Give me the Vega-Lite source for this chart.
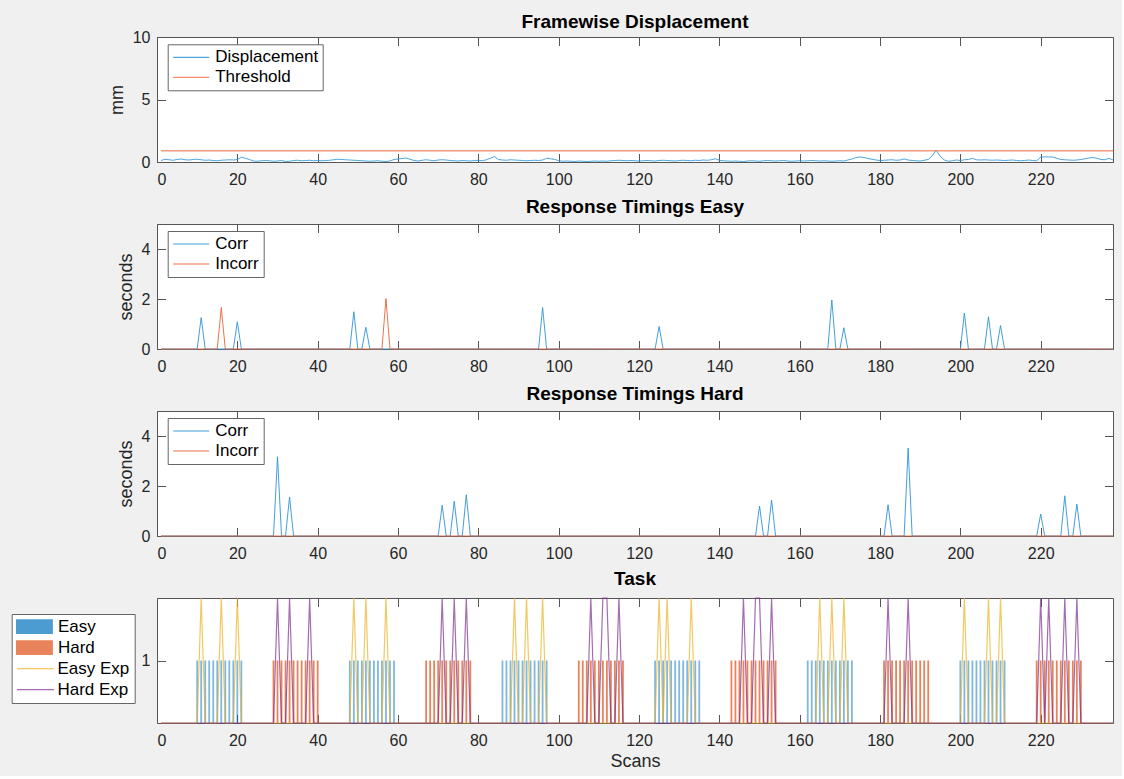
{
"$schema": "https://vega.github.io/schema/vega-lite/v6.json",
"background": "#f0f0f0",
"padding": {"left": 10, "top": 12, "right": 5, "bottom": 5},
"config": {
  "font": "Liberation Sans",
  "view": {"fill": "white", "stroke": "#555", "strokeWidth": 1},
  "axis": {"grid": false, "domain": false, "tickColor": "#555", "tickSize": -8.5, "tickWidth": 1, "labelFont": "Liberation Sans", "labelFontSize": 16, "labelColor": "#262626", "titleFont": "Liberation Sans", "titleFontSize": 18, "titleFontWeight": "normal", "titleColor": "#262626"},
  "axisX": {"labelPadding": 18, "titlePadding": 4},
  "axisY": {"labelPadding": 15.5, "titlePadding": 6},
  "title": {"font": "Liberation Sans", "fontSize": 19, "fontWeight": "bold", "color": "#000", "offset": 7, "baseline": "alphabetic", "frame": "group", "anchor": "middle"},
  "legend": {"orient": "none", "fillColor": "white", "strokeColor": "#666", "padding": 4.5, "labelFont": "Liberation Sans", "labelFontSize": 17, "labelColor": "#000", "symbolType": "stroke", "symbolSize": 1296, "symbolStrokeWidth": 1.2, "clipHeight": 17, "rowPadding": 2, "labelOffset": 5, "symbolOffset": 0}
},
"datasets": {"scans": [
{"s":1,"fd":0.12,"ec":0,"ei":0,"hc":0,"hi":0,"ee":0,"he":0,"b":"-"},
{"s":2,"fd":0.22,"ec":0,"ei":0,"hc":0,"hi":0,"ee":0,"he":0,"b":"-"},
{"s":3,"fd":0.18,"ec":0,"ei":0,"hc":0,"hi":0,"ee":0,"he":0,"b":"-"},
{"s":4,"fd":0.14,"ec":0,"ei":0,"hc":0,"hi":0,"ee":0,"he":0,"b":"-"},
{"s":5,"fd":0.2,"ec":0,"ei":0,"hc":0,"hi":0,"ee":0,"he":0,"b":"-"},
{"s":6,"fd":0.24,"ec":0,"ei":0,"hc":0,"hi":0,"ee":0,"he":0,"b":"-"},
{"s":7,"fd":0.18,"ec":0,"ei":0,"hc":0,"hi":0,"ee":0,"he":0,"b":"-"},
{"s":8,"fd":0.16,"ec":0,"ei":0,"hc":0,"hi":0,"ee":0,"he":0,"b":"-"},
{"s":9,"fd":0.2,"ec":0,"ei":0,"hc":0,"hi":0,"ee":0,"he":0,"b":"-"},
{"s":10,"fd":0.22,"ec":0,"ei":0,"hc":0,"hi":0,"ee":0,"he":0,"b":"E"},
{"s":11,"fd":0.18,"ec":1.26,"ei":0,"hc":0,"hi":0,"ee":2,"he":0,"b":"E"},
{"s":12,"fd":0.14,"ec":0,"ei":0,"hc":0,"hi":0,"ee":0,"he":0,"b":"E"},
{"s":13,"fd":0.16,"ec":0,"ei":0,"hc":0,"hi":0,"ee":0,"he":0,"b":"E"},
{"s":14,"fd":0.12,"ec":0,"ei":0,"hc":0,"hi":0,"ee":0,"he":0,"b":"E"},
{"s":15,"fd":0.1,"ec":0,"ei":0,"hc":0,"hi":0,"ee":0,"he":0,"b":"E"},
{"s":16,"fd":0.14,"ec":0,"ei":1.66,"hc":0,"hi":0,"ee":2,"he":0,"b":"E"},
{"s":17,"fd":0.16,"ec":0,"ei":0,"hc":0,"hi":0,"ee":0,"he":0,"b":"E"},
{"s":18,"fd":0.18,"ec":0,"ei":0,"hc":0,"hi":0,"ee":0,"he":0,"b":"E"},
{"s":19,"fd":0.16,"ec":0,"ei":0,"hc":0,"hi":0,"ee":0,"he":0,"b":"E"},
{"s":20,"fd":0.2,"ec":1.09,"ei":0,"hc":0,"hi":0,"ee":2,"he":0,"b":"E"},
{"s":21,"fd":0.38,"ec":0,"ei":0,"hc":0,"hi":0,"ee":0,"he":0,"b":"E"},
{"s":22,"fd":0.3,"ec":0,"ei":0,"hc":0,"hi":0,"ee":0,"he":0,"b":"-"},
{"s":23,"fd":0.2,"ec":0,"ei":0,"hc":0,"hi":0,"ee":0,"he":0,"b":"-"},
{"s":24,"fd":0.08,"ec":0,"ei":0,"hc":0,"hi":0,"ee":0,"he":0,"b":"-"},
{"s":25,"fd":0.06,"ec":0,"ei":0,"hc":0,"hi":0,"ee":0,"he":0,"b":"-"},
{"s":26,"fd":0.1,"ec":0,"ei":0,"hc":0,"hi":0,"ee":0,"he":0,"b":"-"},
{"s":27,"fd":0.12,"ec":0,"ei":0,"hc":0,"hi":0,"ee":0,"he":0,"b":"-"},
{"s":28,"fd":0.1,"ec":0,"ei":0,"hc":0,"hi":0,"ee":0,"he":0,"b":"-"},
{"s":29,"fd":0.06,"ec":0,"ei":0,"hc":0,"hi":0,"ee":0,"he":0,"b":"H"},
{"s":30,"fd":0.08,"ec":0,"ei":0,"hc":3.17,"hi":0,"ee":0,"he":2,"b":"H"},
{"s":31,"fd":0.12,"ec":0,"ei":0,"hc":0,"hi":0,"ee":0,"he":0,"b":"H"},
{"s":32,"fd":0.04,"ec":0,"ei":0,"hc":0,"hi":0,"ee":0,"he":0,"b":"H"},
{"s":33,"fd":0.06,"ec":0,"ei":0,"hc":1.56,"hi":0,"ee":0,"he":2,"b":"H"},
{"s":34,"fd":0.12,"ec":0,"ei":0,"hc":0,"hi":0,"ee":0,"he":0,"b":"H"},
{"s":35,"fd":0.14,"ec":0,"ei":0,"hc":0,"hi":0,"ee":0,"he":0,"b":"H"},
{"s":36,"fd":0.1,"ec":0,"ei":0,"hc":0,"hi":0,"ee":0,"he":0,"b":"H"},
{"s":37,"fd":0.12,"ec":0,"ei":0,"hc":0,"hi":0,"ee":0,"he":0,"b":"H"},
{"s":38,"fd":0.14,"ec":0,"ei":0,"hc":0,"hi":0,"ee":0,"he":2,"b":"H"},
{"s":39,"fd":0.1,"ec":0,"ei":0,"hc":0,"hi":0,"ee":0,"he":0,"b":"H"},
{"s":40,"fd":0.12,"ec":0,"ei":0,"hc":0,"hi":0,"ee":0,"he":0,"b":"H"},
{"s":41,"fd":0.1,"ec":0,"ei":0,"hc":0,"hi":0,"ee":0,"he":0,"b":"-"},
{"s":42,"fd":0.12,"ec":0,"ei":0,"hc":0,"hi":0,"ee":0,"he":0,"b":"-"},
{"s":43,"fd":0.14,"ec":0,"ei":0,"hc":0,"hi":0,"ee":0,"he":0,"b":"-"},
{"s":44,"fd":0.18,"ec":0,"ei":0,"hc":0,"hi":0,"ee":0,"he":0,"b":"-"},
{"s":45,"fd":0.22,"ec":0,"ei":0,"hc":0,"hi":0,"ee":0,"he":0,"b":"-"},
{"s":46,"fd":0.2,"ec":0,"ei":0,"hc":0,"hi":0,"ee":0,"he":0,"b":"-"},
{"s":47,"fd":0.18,"ec":0,"ei":0,"hc":0,"hi":0,"ee":0,"he":0,"b":"-"},
{"s":48,"fd":0.16,"ec":0,"ei":0,"hc":0,"hi":0,"ee":0,"he":0,"b":"E"},
{"s":49,"fd":0.14,"ec":1.49,"ei":0,"hc":0,"hi":0,"ee":2,"he":0,"b":"E"},
{"s":50,"fd":0.12,"ec":0,"ei":0,"hc":0,"hi":0,"ee":0,"he":0,"b":"E"},
{"s":51,"fd":0.1,"ec":0,"ei":0,"hc":0,"hi":0,"ee":0,"he":0,"b":"E"},
{"s":52,"fd":0.08,"ec":0.87,"ei":0,"hc":0,"hi":0,"ee":2,"he":0,"b":"E"},
{"s":53,"fd":0.06,"ec":0,"ei":0,"hc":0,"hi":0,"ee":0,"he":0,"b":"E"},
{"s":54,"fd":0.08,"ec":0,"ei":0,"hc":0,"hi":0,"ee":0,"he":0,"b":"E"},
{"s":55,"fd":0.1,"ec":0,"ei":0,"hc":0,"hi":0,"ee":0,"he":0,"b":"E"},
{"s":56,"fd":0.06,"ec":0,"ei":0,"hc":0,"hi":0,"ee":0,"he":0,"b":"E"},
{"s":57,"fd":0.04,"ec":0,"ei":2.02,"hc":0,"hi":0,"ee":2,"he":0,"b":"E"},
{"s":58,"fd":0.08,"ec":0,"ei":0,"hc":0,"hi":0,"ee":0,"he":0,"b":"E"},
{"s":59,"fd":0.2,"ec":0,"ei":0,"hc":0,"hi":0,"ee":0,"he":0,"b":"E"},
{"s":60,"fd":0.24,"ec":0,"ei":0,"hc":0,"hi":0,"ee":0,"he":0,"b":"-"},
{"s":61,"fd":0.28,"ec":0,"ei":0,"hc":0,"hi":0,"ee":0,"he":0,"b":"-"},
{"s":62,"fd":0.32,"ec":0,"ei":0,"hc":0,"hi":0,"ee":0,"he":0,"b":"-"},
{"s":63,"fd":0.22,"ec":0,"ei":0,"hc":0,"hi":0,"ee":0,"he":0,"b":"-"},
{"s":64,"fd":0.12,"ec":0,"ei":0,"hc":0,"hi":0,"ee":0,"he":0,"b":"-"},
{"s":65,"fd":0.08,"ec":0,"ei":0,"hc":0,"hi":0,"ee":0,"he":0,"b":"-"},
{"s":66,"fd":0.14,"ec":0,"ei":0,"hc":0,"hi":0,"ee":0,"he":0,"b":"-"},
{"s":67,"fd":0.18,"ec":0,"ei":0,"hc":0,"hi":0,"ee":0,"he":0,"b":"H"},
{"s":68,"fd":0.14,"ec":0,"ei":0,"hc":0,"hi":0,"ee":0,"he":0,"b":"H"},
{"s":69,"fd":0.1,"ec":0,"ei":0,"hc":0,"hi":0,"ee":0,"he":0,"b":"H"},
{"s":70,"fd":0.16,"ec":0,"ei":0,"hc":0,"hi":0,"ee":0,"he":0,"b":"H"},
{"s":71,"fd":0.18,"ec":0,"ei":0,"hc":1.23,"hi":0,"ee":0,"he":2,"b":"H"},
{"s":72,"fd":0.16,"ec":0,"ei":0,"hc":0,"hi":0,"ee":0,"he":0,"b":"H"},
{"s":73,"fd":0.12,"ec":0,"ei":0,"hc":0,"hi":0,"ee":0,"he":0,"b":"H"},
{"s":74,"fd":0.1,"ec":0,"ei":0,"hc":1.39,"hi":0,"ee":0,"he":2,"b":"H"},
{"s":75,"fd":0.08,"ec":0,"ei":0,"hc":0,"hi":0,"ee":0,"he":0,"b":"H"},
{"s":76,"fd":0.12,"ec":0,"ei":0,"hc":0,"hi":0,"ee":0,"he":0,"b":"H"},
{"s":77,"fd":0.1,"ec":0,"ei":0,"hc":1.65,"hi":0,"ee":0,"he":2,"b":"H"},
{"s":78,"fd":0.08,"ec":0,"ei":0,"hc":0,"hi":0,"ee":0,"he":0,"b":"H"},
{"s":79,"fd":0.12,"ec":0,"ei":0,"hc":0,"hi":0,"ee":0,"he":0,"b":"-"},
{"s":80,"fd":0.14,"ec":0,"ei":0,"hc":0,"hi":0,"ee":0,"he":0,"b":"-"},
{"s":81,"fd":0.1,"ec":0,"ei":0,"hc":0,"hi":0,"ee":0,"he":0,"b":"-"},
{"s":82,"fd":0.18,"ec":0,"ei":0,"hc":0,"hi":0,"ee":0,"he":0,"b":"-"},
{"s":83,"fd":0.3,"ec":0,"ei":0,"hc":0,"hi":0,"ee":0,"he":0,"b":"-"},
{"s":84,"fd":0.44,"ec":0,"ei":0,"hc":0,"hi":0,"ee":0,"he":0,"b":"-"},
{"s":85,"fd":0.2,"ec":0,"ei":0,"hc":0,"hi":0,"ee":0,"he":0,"b":"-"},
{"s":86,"fd":0.16,"ec":0,"ei":0,"hc":0,"hi":0,"ee":0,"he":0,"b":"E"},
{"s":87,"fd":0.14,"ec":0,"ei":0,"hc":0,"hi":0,"ee":0,"he":0,"b":"E"},
{"s":88,"fd":0.18,"ec":0,"ei":0,"hc":0,"hi":0,"ee":0,"he":0,"b":"E"},
{"s":89,"fd":0.16,"ec":0,"ei":0,"hc":0,"hi":0,"ee":2,"he":0,"b":"E"},
{"s":90,"fd":0.14,"ec":0,"ei":0,"hc":0,"hi":0,"ee":0,"he":0,"b":"E"},
{"s":91,"fd":0.12,"ec":0,"ei":0,"hc":0,"hi":0,"ee":0,"he":0,"b":"E"},
{"s":92,"fd":0.1,"ec":0,"ei":0,"hc":0,"hi":0,"ee":2,"he":0,"b":"E"},
{"s":93,"fd":0.12,"ec":0,"ei":0,"hc":0,"hi":0,"ee":0,"he":0,"b":"E"},
{"s":94,"fd":0.14,"ec":0,"ei":0,"hc":0,"hi":0,"ee":0,"he":0,"b":"E"},
{"s":95,"fd":0.12,"ec":0,"ei":0,"hc":0,"hi":0,"ee":0,"he":0,"b":"E"},
{"s":96,"fd":0.16,"ec":1.66,"ei":0,"hc":0,"hi":0,"ee":2,"he":0,"b":"E"},
{"s":97,"fd":0.3,"ec":0,"ei":0,"hc":0,"hi":0,"ee":0,"he":0,"b":"E"},
{"s":98,"fd":0.26,"ec":0,"ei":0,"hc":0,"hi":0,"ee":0,"he":0,"b":"-"},
{"s":99,"fd":0.2,"ec":0,"ei":0,"hc":0,"hi":0,"ee":0,"he":0,"b":"-"},
{"s":100,"fd":0.12,"ec":0,"ei":0,"hc":0,"hi":0,"ee":0,"he":0,"b":"-"},
{"s":101,"fd":0.06,"ec":0,"ei":0,"hc":0,"hi":0,"ee":0,"he":0,"b":"-"},
{"s":102,"fd":0.08,"ec":0,"ei":0,"hc":0,"hi":0,"ee":0,"he":0,"b":"-"},
{"s":103,"fd":0.06,"ec":0,"ei":0,"hc":0,"hi":0,"ee":0,"he":0,"b":"-"},
{"s":104,"fd":0.04,"ec":0,"ei":0,"hc":0,"hi":0,"ee":0,"he":0,"b":"-"},
{"s":105,"fd":0.08,"ec":0,"ei":0,"hc":0,"hi":0,"ee":0,"he":0,"b":"H"},
{"s":106,"fd":0.06,"ec":0,"ei":0,"hc":0,"hi":0,"ee":0,"he":0,"b":"H"},
{"s":107,"fd":0.04,"ec":0,"ei":0,"hc":0,"hi":0,"ee":0,"he":0,"b":"H"},
{"s":108,"fd":0.06,"ec":0,"ei":0,"hc":0,"hi":0,"ee":0,"he":2,"b":"H"},
{"s":109,"fd":0.08,"ec":0,"ei":0,"hc":0,"hi":0,"ee":0,"he":0,"b":"H"},
{"s":110,"fd":0.06,"ec":0,"ei":0,"hc":0,"hi":0,"ee":0,"he":0,"b":"H"},
{"s":111,"fd":0.08,"ec":0,"ei":0,"hc":0,"hi":0,"ee":0,"he":2,"b":"H"},
{"s":112,"fd":0.06,"ec":0,"ei":0,"hc":0,"hi":0,"ee":0,"he":2,"b":"H"},
{"s":113,"fd":0.1,"ec":0,"ei":0,"hc":0,"hi":0,"ee":0,"he":0,"b":"H"},
{"s":114,"fd":0.12,"ec":0,"ei":0,"hc":0,"hi":0,"ee":0,"he":0,"b":"H"},
{"s":115,"fd":0.14,"ec":0,"ei":0,"hc":0,"hi":0,"ee":0,"he":2,"b":"H"},
{"s":116,"fd":0.12,"ec":0,"ei":0,"hc":0,"hi":0,"ee":0,"he":0,"b":"H"},
{"s":117,"fd":0.1,"ec":0,"ei":0,"hc":0,"hi":0,"ee":0,"he":0,"b":"-"},
{"s":118,"fd":0.12,"ec":0,"ei":0,"hc":0,"hi":0,"ee":0,"he":0,"b":"-"},
{"s":119,"fd":0.1,"ec":0,"ei":0,"hc":0,"hi":0,"ee":0,"he":0,"b":"-"},
{"s":120,"fd":0.08,"ec":0,"ei":0,"hc":0,"hi":0,"ee":0,"he":0,"b":"-"},
{"s":121,"fd":0.1,"ec":0,"ei":0,"hc":0,"hi":0,"ee":0,"he":0,"b":"-"},
{"s":122,"fd":0.12,"ec":0,"ei":0,"hc":0,"hi":0,"ee":0,"he":0,"b":"-"},
{"s":123,"fd":0.1,"ec":0,"ei":0,"hc":0,"hi":0,"ee":0,"he":0,"b":"-"},
{"s":124,"fd":0.08,"ec":0,"ei":0,"hc":0,"hi":0,"ee":0,"he":0,"b":"E"},
{"s":125,"fd":0.12,"ec":0.9,"ei":0,"hc":0,"hi":0,"ee":2,"he":0,"b":"E"},
{"s":126,"fd":0.14,"ec":0,"ei":0,"hc":0,"hi":0,"ee":0,"he":0,"b":"E"},
{"s":127,"fd":0.12,"ec":0,"ei":0,"hc":0,"hi":0,"ee":2,"he":0,"b":"E"},
{"s":128,"fd":0.1,"ec":0,"ei":0,"hc":0,"hi":0,"ee":0,"he":0,"b":"E"},
{"s":129,"fd":0.08,"ec":0,"ei":0,"hc":0,"hi":0,"ee":0,"he":0,"b":"E"},
{"s":130,"fd":0.12,"ec":0,"ei":0,"hc":0,"hi":0,"ee":0,"he":0,"b":"E"},
{"s":131,"fd":0.14,"ec":0,"ei":0,"hc":0,"hi":0,"ee":0,"he":0,"b":"E"},
{"s":132,"fd":0.12,"ec":0,"ei":0,"hc":0,"hi":0,"ee":0,"he":0,"b":"E"},
{"s":133,"fd":0.1,"ec":0,"ei":0,"hc":0,"hi":0,"ee":2,"he":0,"b":"E"},
{"s":134,"fd":0.14,"ec":0,"ei":0,"hc":0,"hi":0,"ee":0,"he":0,"b":"E"},
{"s":135,"fd":0.12,"ec":0,"ei":0,"hc":0,"hi":0,"ee":0,"he":0,"b":"E"},
{"s":136,"fd":0.16,"ec":0,"ei":0,"hc":0,"hi":0,"ee":0,"he":0,"b":"-"},
{"s":137,"fd":0.14,"ec":0,"ei":0,"hc":0,"hi":0,"ee":0,"he":0,"b":"-"},
{"s":138,"fd":0.18,"ec":0,"ei":0,"hc":0,"hi":0,"ee":0,"he":0,"b":"-"},
{"s":139,"fd":0.26,"ec":0,"ei":0,"hc":0,"hi":0,"ee":0,"he":0,"b":"-"},
{"s":140,"fd":0.14,"ec":0,"ei":0,"hc":0,"hi":0,"ee":0,"he":0,"b":"-"},
{"s":141,"fd":0.1,"ec":0,"ei":0,"hc":0,"hi":0,"ee":0,"he":0,"b":"-"},
{"s":142,"fd":0.08,"ec":0,"ei":0,"hc":0,"hi":0,"ee":0,"he":0,"b":"-"},
{"s":143,"fd":0.06,"ec":0,"ei":0,"hc":0,"hi":0,"ee":0,"he":0,"b":"H"},
{"s":144,"fd":0.08,"ec":0,"ei":0,"hc":0,"hi":0,"ee":0,"he":0,"b":"H"},
{"s":145,"fd":0.06,"ec":0,"ei":0,"hc":0,"hi":0,"ee":0,"he":0,"b":"H"},
{"s":146,"fd":0.04,"ec":0,"ei":0,"hc":0,"hi":0,"ee":0,"he":2,"b":"H"},
{"s":147,"fd":0.08,"ec":0,"ei":0,"hc":0,"hi":0,"ee":0,"he":0,"b":"H"},
{"s":148,"fd":0.1,"ec":0,"ei":0,"hc":0,"hi":0,"ee":0,"he":0,"b":"H"},
{"s":149,"fd":0.08,"ec":0,"ei":0,"hc":0,"hi":0,"ee":0,"he":2,"b":"H"},
{"s":150,"fd":0.06,"ec":0,"ei":0,"hc":1.2,"hi":0,"ee":0,"he":2,"b":"H"},
{"s":151,"fd":0.1,"ec":0,"ei":0,"hc":0,"hi":0,"ee":0,"he":0,"b":"H"},
{"s":152,"fd":0.12,"ec":0,"ei":0,"hc":0,"hi":0,"ee":0,"he":0,"b":"H"},
{"s":153,"fd":0.1,"ec":0,"ei":0,"hc":1.44,"hi":0,"ee":0,"he":2,"b":"H"},
{"s":154,"fd":0.08,"ec":0,"ei":0,"hc":0,"hi":0,"ee":0,"he":0,"b":"H"},
{"s":155,"fd":0.1,"ec":0,"ei":0,"hc":0,"hi":0,"ee":0,"he":0,"b":"-"},
{"s":156,"fd":0.12,"ec":0,"ei":0,"hc":0,"hi":0,"ee":0,"he":0,"b":"-"},
{"s":157,"fd":0.08,"ec":0,"ei":0,"hc":0,"hi":0,"ee":0,"he":0,"b":"-"},
{"s":158,"fd":0.06,"ec":0,"ei":0,"hc":0,"hi":0,"ee":0,"he":0,"b":"-"},
{"s":159,"fd":0.08,"ec":0,"ei":0,"hc":0,"hi":0,"ee":0,"he":0,"b":"-"},
{"s":160,"fd":0.1,"ec":0,"ei":0,"hc":0,"hi":0,"ee":0,"he":0,"b":"-"},
{"s":161,"fd":0.08,"ec":0,"ei":0,"hc":0,"hi":0,"ee":0,"he":0,"b":"-"},
{"s":162,"fd":0.1,"ec":0,"ei":0,"hc":0,"hi":0,"ee":0,"he":0,"b":"E"},
{"s":163,"fd":0.12,"ec":0,"ei":0,"hc":0,"hi":0,"ee":0,"he":0,"b":"E"},
{"s":164,"fd":0.1,"ec":0,"ei":0,"hc":0,"hi":0,"ee":0,"he":0,"b":"E"},
{"s":165,"fd":0.08,"ec":0,"ei":0,"hc":0,"hi":0,"ee":2,"he":0,"b":"E"},
{"s":166,"fd":0.1,"ec":0,"ei":0,"hc":0,"hi":0,"ee":0,"he":0,"b":"E"},
{"s":167,"fd":0.08,"ec":0,"ei":0,"hc":0,"hi":0,"ee":0,"he":0,"b":"E"},
{"s":168,"fd":0.06,"ec":1.96,"ei":0,"hc":0,"hi":0,"ee":2,"he":0,"b":"E"},
{"s":169,"fd":0.08,"ec":0,"ei":0,"hc":0,"hi":0,"ee":0,"he":0,"b":"E"},
{"s":170,"fd":0.1,"ec":0,"ei":0,"hc":0,"hi":0,"ee":0,"he":0,"b":"E"},
{"s":171,"fd":0.08,"ec":0.85,"ei":0,"hc":0,"hi":0,"ee":2,"he":0,"b":"E"},
{"s":172,"fd":0.16,"ec":0,"ei":0,"hc":0,"hi":0,"ee":0,"he":0,"b":"E"},
{"s":173,"fd":0.24,"ec":0,"ei":0,"hc":0,"hi":0,"ee":0,"he":0,"b":"E"},
{"s":174,"fd":0.36,"ec":0,"ei":0,"hc":0,"hi":0,"ee":0,"he":0,"b":"-"},
{"s":175,"fd":0.4,"ec":0,"ei":0,"hc":0,"hi":0,"ee":0,"he":0,"b":"-"},
{"s":176,"fd":0.36,"ec":0,"ei":0,"hc":0,"hi":0,"ee":0,"he":0,"b":"-"},
{"s":177,"fd":0.28,"ec":0,"ei":0,"hc":0,"hi":0,"ee":0,"he":0,"b":"-"},
{"s":178,"fd":0.22,"ec":0,"ei":0,"hc":0,"hi":0,"ee":0,"he":0,"b":"-"},
{"s":179,"fd":0.16,"ec":0,"ei":0,"hc":0,"hi":0,"ee":0,"he":0,"b":"-"},
{"s":180,"fd":0.12,"ec":0,"ei":0,"hc":0,"hi":0,"ee":0,"he":0,"b":"-"},
{"s":181,"fd":0.14,"ec":0,"ei":0,"hc":0,"hi":0,"ee":0,"he":0,"b":"H"},
{"s":182,"fd":0.16,"ec":0,"ei":0,"hc":1.25,"hi":0,"ee":0,"he":2,"b":"H"},
{"s":183,"fd":0.18,"ec":0,"ei":0,"hc":0,"hi":0,"ee":0,"he":0,"b":"H"},
{"s":184,"fd":0.14,"ec":0,"ei":0,"hc":0,"hi":0,"ee":0,"he":0,"b":"H"},
{"s":185,"fd":0.16,"ec":0,"ei":0,"hc":0,"hi":0,"ee":0,"he":0,"b":"H"},
{"s":186,"fd":0.24,"ec":0,"ei":0,"hc":0,"hi":0,"ee":0,"he":0,"b":"H"},
{"s":187,"fd":0.16,"ec":0,"ei":0,"hc":3.52,"hi":0,"ee":0,"he":2,"b":"H"},
{"s":188,"fd":0.12,"ec":0,"ei":0,"hc":0,"hi":0,"ee":0,"he":0,"b":"H"},
{"s":189,"fd":0.1,"ec":0,"ei":0,"hc":0,"hi":0,"ee":0,"he":0,"b":"H"},
{"s":190,"fd":0.08,"ec":0,"ei":0,"hc":0,"hi":0,"ee":0,"he":0,"b":"H"},
{"s":191,"fd":0.14,"ec":0,"ei":0,"hc":0,"hi":0,"ee":0,"he":0,"b":"H"},
{"s":192,"fd":0.2,"ec":0,"ei":0,"hc":0,"hi":0,"ee":0,"he":0,"b":"H"},
{"s":193,"fd":0.5,"ec":0,"ei":0,"hc":0,"hi":0,"ee":0,"he":0,"b":"-"},
{"s":194,"fd":0.96,"ec":0,"ei":0,"hc":0,"hi":0,"ee":0,"he":0,"b":"-"},
{"s":195,"fd":0.45,"ec":0,"ei":0,"hc":0,"hi":0,"ee":0,"he":0,"b":"-"},
{"s":196,"fd":0.16,"ec":0,"ei":0,"hc":0,"hi":0,"ee":0,"he":0,"b":"-"},
{"s":197,"fd":0.06,"ec":0,"ei":0,"hc":0,"hi":0,"ee":0,"he":0,"b":"-"},
{"s":198,"fd":0.1,"ec":0,"ei":0,"hc":0,"hi":0,"ee":0,"he":0,"b":"-"},
{"s":199,"fd":0.16,"ec":0,"ei":0,"hc":0,"hi":0,"ee":0,"he":0,"b":"-"},
{"s":200,"fd":0.12,"ec":0,"ei":0,"hc":0,"hi":0,"ee":0,"he":0,"b":"E"},
{"s":201,"fd":0.18,"ec":1.44,"ei":0,"hc":0,"hi":0,"ee":2,"he":0,"b":"E"},
{"s":202,"fd":0.2,"ec":0,"ei":0,"hc":0,"hi":0,"ee":0,"he":0,"b":"E"},
{"s":203,"fd":0.3,"ec":0,"ei":0,"hc":0,"hi":0,"ee":0,"he":0,"b":"E"},
{"s":204,"fd":0.18,"ec":0,"ei":0,"hc":0,"hi":0,"ee":0,"he":0,"b":"E"},
{"s":205,"fd":0.16,"ec":0,"ei":0,"hc":0,"hi":0,"ee":0,"he":0,"b":"E"},
{"s":206,"fd":0.18,"ec":0,"ei":0,"hc":0,"hi":0,"ee":0,"he":0,"b":"E"},
{"s":207,"fd":0.16,"ec":1.29,"ei":0,"hc":0,"hi":0,"ee":2,"he":0,"b":"E"},
{"s":208,"fd":0.14,"ec":0,"ei":0,"hc":0,"hi":0,"ee":0,"he":0,"b":"E"},
{"s":209,"fd":0.16,"ec":0,"ei":0,"hc":0,"hi":0,"ee":0,"he":0,"b":"E"},
{"s":210,"fd":0.14,"ec":0.94,"ei":0,"hc":0,"hi":0,"ee":2,"he":0,"b":"E"},
{"s":211,"fd":0.12,"ec":0,"ei":0,"hc":0,"hi":0,"ee":0,"he":0,"b":"E"},
{"s":212,"fd":0.14,"ec":0,"ei":0,"hc":0,"hi":0,"ee":0,"he":0,"b":"-"},
{"s":213,"fd":0.16,"ec":0,"ei":0,"hc":0,"hi":0,"ee":0,"he":0,"b":"-"},
{"s":214,"fd":0.12,"ec":0,"ei":0,"hc":0,"hi":0,"ee":0,"he":0,"b":"-"},
{"s":215,"fd":0.1,"ec":0,"ei":0,"hc":0,"hi":0,"ee":0,"he":0,"b":"-"},
{"s":216,"fd":0.12,"ec":0,"ei":0,"hc":0,"hi":0,"ee":0,"he":0,"b":"-"},
{"s":217,"fd":0.16,"ec":0,"ei":0,"hc":0,"hi":0,"ee":0,"he":0,"b":"-"},
{"s":218,"fd":0.12,"ec":0,"ei":0,"hc":0,"hi":0,"ee":0,"he":0,"b":"-"},
{"s":219,"fd":0.1,"ec":0,"ei":0,"hc":0,"hi":0,"ee":0,"he":0,"b":"H"},
{"s":220,"fd":0.38,"ec":0,"ei":0,"hc":0.88,"hi":0,"ee":0,"he":2,"b":"H"},
{"s":221,"fd":0.42,"ec":0,"ei":0,"hc":0,"hi":0,"ee":0,"he":0,"b":"H"},
{"s":222,"fd":0.4,"ec":0,"ei":0,"hc":0,"hi":0,"ee":0,"he":2,"b":"H"},
{"s":223,"fd":0.4,"ec":0,"ei":0,"hc":0,"hi":0,"ee":0,"he":0,"b":"H"},
{"s":224,"fd":0.3,"ec":0,"ei":0,"hc":0,"hi":0,"ee":0,"he":0,"b":"H"},
{"s":225,"fd":0.2,"ec":0,"ei":0,"hc":0,"hi":0,"ee":0,"he":0,"b":"H"},
{"s":226,"fd":0.18,"ec":0,"ei":0,"hc":1.61,"hi":0,"ee":0,"he":2,"b":"H"},
{"s":227,"fd":0.16,"ec":0,"ei":0,"hc":0,"hi":0,"ee":0,"he":0,"b":"H"},
{"s":228,"fd":0.14,"ec":0,"ei":0,"hc":0,"hi":0,"ee":0,"he":0,"b":"H"},
{"s":229,"fd":0.16,"ec":0,"ei":0,"hc":1.28,"hi":0,"ee":0,"he":2,"b":"H"},
{"s":230,"fd":0.2,"ec":0,"ei":0,"hc":0,"hi":0,"ee":0,"he":0,"b":"H"},
{"s":231,"fd":0.26,"ec":0,"ei":0,"hc":0,"hi":0,"ee":0,"he":0,"b":"-"},
{"s":232,"fd":0.32,"ec":0,"ei":0,"hc":0,"hi":0,"ee":0,"he":0,"b":"-"},
{"s":233,"fd":0.36,"ec":0,"ei":0,"hc":0,"hi":0,"ee":0,"he":0,"b":"-"},
{"s":234,"fd":0.3,"ec":0,"ei":0,"hc":0,"hi":0,"ee":0,"he":0,"b":"-"},
{"s":235,"fd":0.2,"ec":0,"ei":0,"hc":0,"hi":0,"ee":0,"he":0,"b":"-"},
{"s":236,"fd":0.18,"ec":0,"ei":0,"hc":0,"hi":0,"ee":0,"he":0,"b":"-"},
{"s":237,"fd":0.3,"ec":0,"ei":0,"hc":0,"hi":0,"ee":0,"he":0,"b":"-"},
{"s":238,"fd":0.16,"ec":0,"ei":0,"hc":0,"hi":0,"ee":0,"he":0,"b":"-"}
]},
"spacing": 62,
"bounds": "flush",
"resolve": {"scale": {"x": "independent", "y": "independent", "color": "independent", "stroke": "independent"}, "legend": {"color": "independent", "stroke": "independent"}},
"vconcat": [
{
  "width": 956, "height": 125,
  "title": {"text": "Framewise Displacement", "offset": -3},
  "data": {"name": "scans"},
  "resolve": {"axis": {"x": "independent", "y": "independent"}},
  "layer": [
    {"mark": {"type": "line", "strokeWidth": 1, "opacity": 0.85},
     "encoding": {
       "x": {"field": "s", "type": "quantitative", "scale": {"domain": [0, 238], "nice": false, "zero": false}, "axis": {"orient": "bottom", "title": null, "values": [0,20,40,60,80,100,120,140,160,180,200,220]}},
       "y": {"field": "fd", "type": "quantitative", "scale": {"domain": [0, 10], "nice": false}, "axis": {"orient": "left", "title": "mm", "values": [0,5,10]}},
       "color": {"datum": "Displacement", "type": "nominal", "scale": {"domain": ["Displacement", "Threshold"], "range": ["#2F95D8", "#EE7A50"]}, "legend": {"title": null, "legendX": 10.7, "legendY": 7.3}}
     }},
    {"mark": {"type": "line", "strokeWidth": 1.5, "opacity": 0.75},
     "encoding": {
       "x": {"field": "s", "type": "quantitative", "axis": {"orient": "top", "title": null, "labels": false, "values": [0,20,40,60,80,100,120,140,160,180,200,220]}},
       "y": {"datum": 0.9, "type": "quantitative", "axis": {"orient": "right", "title": null, "labels": false, "values": [0,5,10]}},
       "color": {"datum": "Threshold", "type": "nominal"}
     }}
  ]
},
{
  "width": 956, "height": 125,
  "title": {"text": "Response Timings Easy"},
  "data": {"name": "scans"},
  "resolve": {"axis": {"x": "independent", "y": "independent"}},
  "layer": [
    {"mark": {"type": "line", "strokeWidth": 1, "opacity": 0.9},
     "encoding": {
       "x": {"field": "s", "type": "quantitative", "scale": {"domain": [0, 238], "nice": false, "zero": false}, "axis": {"orient": "bottom", "title": null, "values": [0,20,40,60,80,100,120,140,160,180,200,220]}},
       "y": {"field": "ec", "type": "quantitative", "scale": {"domain": [0, 5], "nice": false}, "axis": {"orient": "left", "title": "seconds", "values": [0,2,4]}},
       "color": {"datum": "Corr", "type": "nominal", "scale": {"domain": ["Corr", "Incorr"], "range": ["#2F95D8", "#E8653A"]}, "legend": {"title": null, "legendX": 10.7, "legendY": 7}}
     }},
    {"mark": {"type": "line", "strokeWidth": 1, "opacity": 0.9},
     "encoding": {
       "x": {"field": "s", "type": "quantitative", "axis": {"orient": "top", "title": null, "labels": false, "values": [0,20,40,60,80,100,120,140,160,180,200,220]}},
       "y": {"field": "ei", "type": "quantitative", "axis": {"orient": "right", "title": null, "labels": false, "values": [0,2,4]}},
       "color": {"datum": "Incorr", "type": "nominal"}
     }}
  ]
},
{
  "width": 956, "height": 125,
  "title": {"text": "Response Timings Hard"},
  "data": {"name": "scans"},
  "resolve": {"axis": {"x": "independent", "y": "independent"}},
  "layer": [
    {"mark": {"type": "line", "strokeWidth": 1, "opacity": 0.9},
     "encoding": {
       "x": {"field": "s", "type": "quantitative", "scale": {"domain": [0, 238], "nice": false, "zero": false}, "axis": {"orient": "bottom", "title": null, "values": [0,20,40,60,80,100,120,140,160,180,200,220]}},
       "y": {"field": "hc", "type": "quantitative", "scale": {"domain": [0, 5], "nice": false}, "axis": {"orient": "left", "title": "seconds", "values": [0,2,4]}},
       "color": {"datum": "Corr", "type": "nominal", "scale": {"domain": ["Corr", "Incorr"], "range": ["#2F95D8", "#E8653A"]}, "legend": {"title": null, "legendX": 10.7, "legendY": 7}}
     }},
    {"mark": {"type": "line", "strokeWidth": 1, "opacity": 0.9},
     "encoding": {
       "x": {"field": "s", "type": "quantitative", "axis": {"orient": "top", "title": null, "labels": false, "values": [0,20,40,60,80,100,120,140,160,180,200,220]}},
       "y": {"field": "hi", "type": "quantitative", "axis": {"orient": "right", "title": null, "labels": false, "values": [0,2,4]}},
       "color": {"datum": "Incorr", "type": "nominal"}
     }}
  ]
},
{
  "width": 956, "height": 125,
  "title": {"text": "Task"},
  "data": {"name": "scans"},
  "resolve": {"axis": {"x": "independent", "y": "independent"}},
  "layer": [
    {"transform": [{"filter": "datum.b == 'E'"}],
     "mark": {"type": "bar", "width": 1.8, "opacity": 0.5},
     "encoding": {
       "x": {"field": "s", "type": "quantitative", "scale": {"domain": [0, 238], "nice": false, "zero": false, "padding": 0}, "axis": {"orient": "bottom", "title": "Scans", "values": [0,20,40,60,80,100,120,140,160,180,200,220]}},
       "y": {"datum": 1, "type": "quantitative", "scale": {"domain": [0, 2], "nice": false, "padding": 0}, "axis": {"orient": "left", "title": null, "values": [1]}},
       "y2": {"datum": 0},
       "color": {"datum": "Easy", "type": "nominal", "scale": {"domain": ["Easy", "Hard", "Easy Exp", "Hard Exp"], "range": ["#0072BD", "#DF4F15", "#EDB120", "#7E2F8E"]},
         "legend": {"title": null, "legendX": -145.3, "legendY": 16, "rowPadding": 3, "padding": 4.2, "symbolType": "M-1,-0.4H1V0.4H-1Z", "symbolSize": 1369, "symbolStrokeWidth": 0, "symbolOpacity": 1, "zindex": 0}}
     }},
    {"transform": [{"filter": "datum.b == 'H'"}],
     "mark": {"type": "bar", "width": 1.8, "opacity": 0.7},
     "encoding": {
       "x": {"field": "s", "type": "quantitative", "axis": {"orient": "top", "title": null, "labels": false, "values": [0,20,40,60,80,100,120,140,160,180,200,220]}},
       "y": {"datum": 1, "type": "quantitative", "axis": {"orient": "right", "title": null, "labels": false, "values": [1]}},
       "y2": {"datum": 0},
       "color": {"datum": "Hard", "type": "nominal"}
     }},
    {"mark": {"type": "line", "strokeWidth": 1.2, "opacity": 0.7},
     "encoding": {
       "x": {"field": "s", "type": "quantitative", "axis": null},
       "y": {"field": "ee", "type": "quantitative", "axis": null},
       "stroke": {"datum": "Easy Exp", "type": "nominal", "scale": {"domain": ["Easy Exp", "Hard Exp"], "range": ["#EDB120", "#7E2F8E"]},
         "legend": {"title": null, "legendX": -144.1, "legendY": 59.2, "rowPadding": 3, "padding": 3, "symbolSize": 1369, "symbolStrokeWidth": 1.3, "labelOffset": 2.5, "fillColor": "white", "strokeColor": "white", "zindex": 1}}
     }},
    {"mark": {"type": "line", "strokeWidth": 1.2, "opacity": 0.7},
     "encoding": {
       "x": {"field": "s", "type": "quantitative", "axis": null},
       "y": {"field": "he", "type": "quantitative", "axis": null},
       "stroke": {"datum": "Hard Exp", "type": "nominal"}
     }}
  ]
}
]
}
